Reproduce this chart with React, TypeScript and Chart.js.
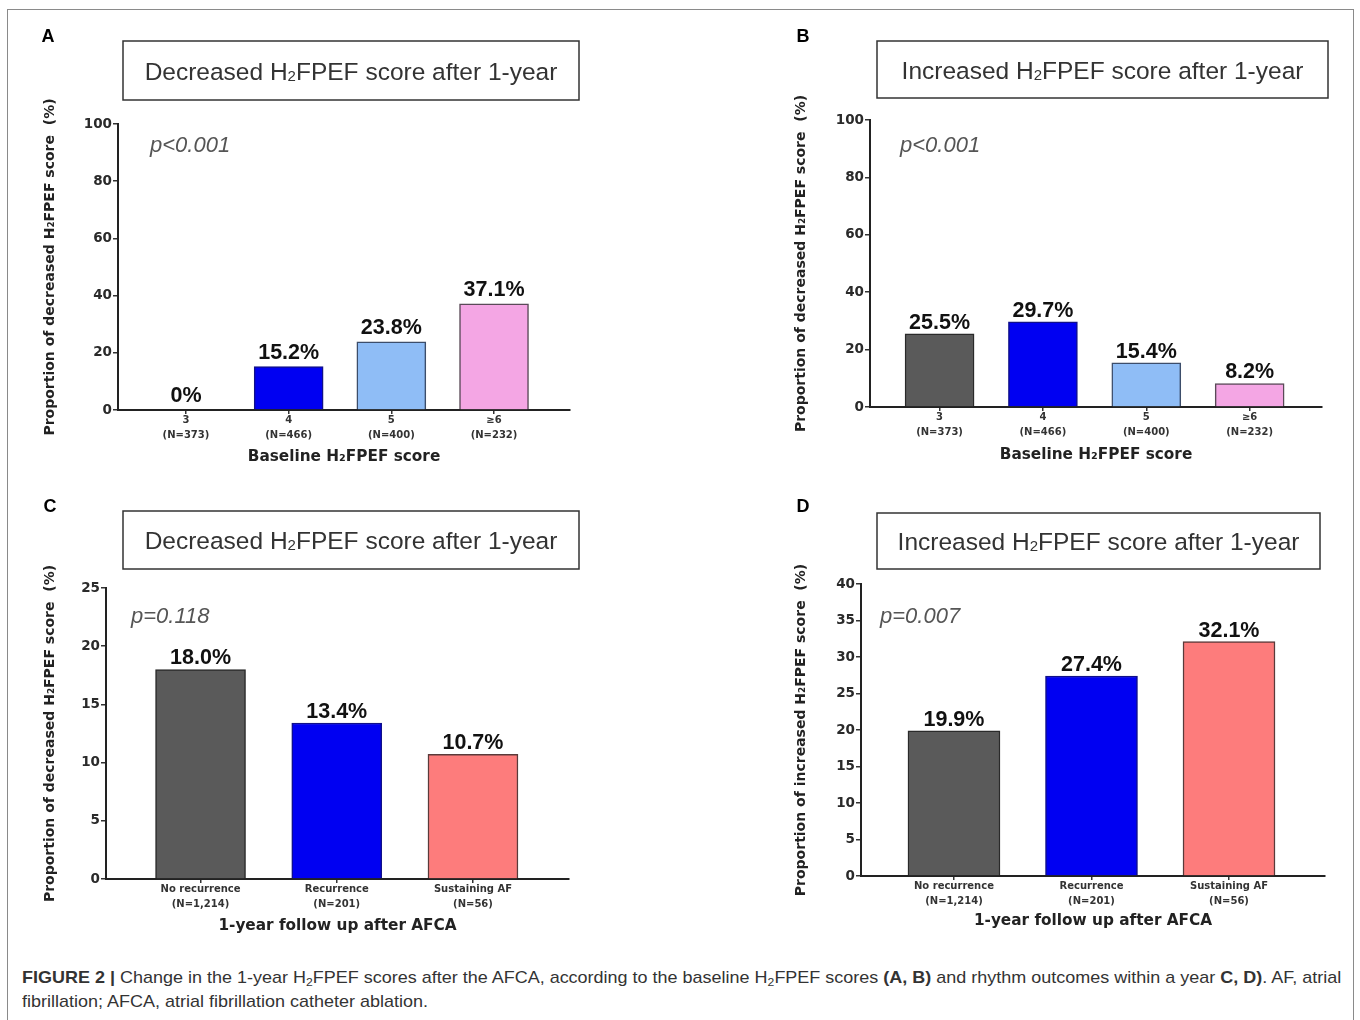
import React, { useEffect, useRef } from "react";
import { Chart, registerables } from "chart.js";

Chart.register(...registerables);

// ---------- data ----------
const scoreCategories = ["3", "4", "5", "≥6"];
const scoreCounts = ["(N=373)", "(N=466)", "(N=400)", "(N=232)"];
const decreasedByScore = [0, 15.2, 23.8, 37.1];
const increasedByScore = [25.5, 29.7, 15.4, 8.2];

const rhythmCategories = ["No recurrence", "Recurrence", "Sustaining AF"];
const rhythmCounts = ["(N=1,214)", "(N=201)", "(N=56)"];
const decreasedByRhythm = [18.0, 13.4, 10.7];
const increasedByRhythm = [19.9, 27.4, 32.1];

const scoreColors = ["#5a5a5a", "#0000f2", "#8fbdf6", "#f4a6e4"];
const scoreBorders = ["#2a2a2a", "#10108a", "#3c4d6a", "#5a4a58"];
const rhythmColors = ["#5a5a5a", "#0000f2", "#fd7c7c"];
const rhythmBorders = ["#2a2a2a", "#10108a", "#5a3a3a"];

const pValues = ["p<0.001", "p<0.001", "p=0.118", "p=0.007"];

// ---------- layout (page coordinates) ----------
type Panel = {
  letter: string;
  cx: number; cy: number; cw: number; ch: number;
  L: number; R: number; T: number; B: number;
  xMin: number; xMax: number; yMax: number; yStep: number;
  barThickness: number; labelGap: number;
  cats: string[]; counts: string[]; values: number[];
  colors: string[]; borders: string[];
  box: [number, number, number, number];
  titleParts: [string, string, string];
  letterX: number; letterY: number;
  pText: string; pX: number; pY: number;
  yTitle: string; yTitleX: number;
  xTitle: string; xTitleY: number;
};

const panels: Panel[] = [
  {
    letter: "A", cx: 0, cy: 0, cw: 680, ch: 470,
    L: 118, R: 570, T: 124, B: 410,
    xMin: 0.338, xMax: 4.74, yMax: 100, yStep: 20, barThickness: 69, labelGap: 8,
    cats: scoreCategories, counts: scoreCounts, values: decreasedByScore,
    colors: scoreColors, borders: scoreBorders,
    box: [123, 41, 579, 100],
    titleParts: ["Decreased H", "2", "FPEF score after 1-year"],
    letterX: 48, letterY: 37,
    pText: pValues[0], pX: 150, pY: 146,
    yTitle: "Proportion of decreased H₂FPEF score  (%)", yTitleX: 50,
    xTitle: "Baseline H₂FPEF score", xTitleY: 457,
  },
  {
    letter: "B", cx: 680, cy: 0, cw: 680, ch: 470,
    L: 870, R: 1322, T: 120, B: 407,
    xMin: 0.327, xMax: 4.70, yMax: 100, yStep: 20, barThickness: 69, labelGap: 5,
    cats: scoreCategories, counts: scoreCounts, values: increasedByScore,
    colors: scoreColors, borders: scoreBorders,
    box: [877, 41, 1328, 98],
    titleParts: ["Increased H", "2", "FPEF score after 1-year"],
    letterX: 803, letterY: 37,
    pText: pValues[1], pX: 900, pY: 146,
    yTitle: "Proportion of decreased H₂FPEF score  (%)", yTitleX: 801,
    xTitle: "Baseline H₂FPEF score", xTitleY: 455,
  },
  {
    letter: "C", cx: 0, cy: 470, cw: 680, ch: 470,
    L: 106, R: 569, T: 588, B: 879,
    xMin: 0.306, xMax: 3.705, yMax: 25, yStep: 5, barThickness: 90, labelGap: 5,
    cats: rhythmCategories, counts: rhythmCounts, values: decreasedByRhythm,
    colors: rhythmColors, borders: rhythmBorders,
    box: [123, 511, 579, 569],
    titleParts: ["Decreased H", "2", "FPEF score after 1-year"],
    letterX: 50, letterY: 507,
    pText: pValues[2], pX: 131, pY: 617,
    yTitle: "Proportion of decreased H₂FPEF score  (%)", yTitleX: 50,
    xTitle: "1-year follow up after AFCA", xTitleY: 926,
  },
  {
    letter: "D", cx: 680, cy: 470, cw: 680, ch: 470,
    L: 861, R: 1325, T: 584, B: 876,
    xMin: 0.324, xMax: 3.698, yMax: 40, yStep: 5, barThickness: 92, labelGap: 5,
    cats: rhythmCategories, counts: rhythmCounts, values: increasedByRhythm,
    colors: rhythmColors, borders: rhythmBorders,
    box: [877, 513, 1320, 569],
    titleParts: ["Increased H", "2", "FPEF score after 1-year"],
    letterX: 803, letterY: 507,
    pText: pValues[3], pX: 880, pY: 617,
    yTitle: "Proportion of increased H₂FPEF score  (%)", yTitleX: 801,
    xTitle: "1-year follow up after AFCA", xTitleY: 921,
  },
];

const AXIS_FONT = '"DejaVu Sans", "Liberation Sans", Arial, sans-serif';
const ARIAL = '"Liberation Sans", Arial, Helvetica, sans-serif';

const fmt = (v: number) => (v === 0 ? "0%" : v.toFixed(1) + "%");

function makeDecor(p: Panel) {
  return {
    id: "decor" + p.letter,
    afterDraw(chart: any) {
      const ctx = chart.ctx as CanvasRenderingContext2D;
      const ox = p.cx, oy = p.cy;
      ctx.save();
      // panel letter
      ctx.font = `bold 18px ${ARIAL}`;
      ctx.fillStyle = "#000";
      ctx.textAlign = "center";
      ctx.textBaseline = "middle";
      ctx.fillText(p.letter, p.letterX - ox, p.letterY - oy);
      // title box
      const [x0, y0, x1, y1] = p.box;
      ctx.strokeStyle = "#333";
      ctx.lineWidth = 1.5;
      ctx.strokeRect(x0 - ox, y0 - oy, x1 - x0, y1 - y0);
      // title text with small "2"
      const bigFont = `24.5px ${ARIAL}`;
      const smallFont = `15px ${ARIAL}`;
      ctx.font = bigFont;
      const w0 = ctx.measureText(p.titleParts[0]).width;
      const w2 = ctx.measureText(p.titleParts[2]).width;
      ctx.font = smallFont;
      const w1 = ctx.measureText(p.titleParts[1]).width;
      const total = w0 + w1 + w2;
      let tx = (x0 + x1) / 2 - total / 2 - ox;
      const baseY = (y0 + y1) / 2 - oy + 9;
      ctx.textAlign = "left";
      ctx.textBaseline = "alphabetic";
      ctx.fillStyle = "#333";
      ctx.font = bigFont;
      ctx.fillText(p.titleParts[0], tx, baseY);
      tx += w0;
      ctx.font = smallFont;
      ctx.fillText(p.titleParts[1], tx, baseY + 1);
      tx += w1;
      ctx.font = bigFont;
      ctx.fillText(p.titleParts[2], tx, baseY);
      // p value
      ctx.font = `italic 22px ${ARIAL}`;
      ctx.fillStyle = "#555";
      ctx.textBaseline = "middle";
      ctx.fillText(p.pText, p.pX - ox, p.pY - oy);
      // bar value labels
      const meta = chart.getDatasetMeta(0);
      ctx.font = `bold 21.5px ${ARIAL}`;
      ctx.fillStyle = "#111";
      ctx.textAlign = "center";
      ctx.textBaseline = "alphabetic";
      meta.data.forEach((bar: any, i: number) => {
        ctx.fillText(fmt(p.values[i]), bar.x, bar.y - p.labelGap);
      });
      ctx.restore();
    },
  };
}

function PanelChart({ p }: { p: Panel }) {
  const ref = useRef<HTMLCanvasElement>(null);
  useEffect(() => {
    if (!ref.current) return;
    const l = p.L - p.cx, r = p.R - p.cx, t = p.T - p.cy, b = p.B - p.cy;
    const xTitleSize = 15.3;
    const xTitleLH = xTitleSize * 1.2;
    const H = p.xTitleY - p.cy - b + xTitleLH / 2;
    const yTitleSize = 14;
    const yTitleLH = yTitleSize * 1.2;
    const chart = new Chart(ref.current, {
      type: "bar",
      data: {
        datasets: [
          {
            data: p.values.map((v, i) => ({ x: i + 1, y: v })),
            backgroundColor: p.colors,
            borderColor: p.borders,
            borderWidth: 1.5,
            borderSkipped: "bottom",
            barThickness: p.barThickness,
          } as any,
        ],
      },
      options: {
        animation: false,
        responsive: false,
        maintainAspectRatio: false,
        events: [],
        layout: {
          padding: { left: 0, right: p.cw - r, top: t, bottom: p.ch - b - H },
        },
        plugins: { legend: { display: false }, tooltip: { enabled: false } },
        scales: {
          x: {
            type: "linear",
            min: p.xMin,
            max: p.xMax,
            offset: false,
            bounds: "data",
            afterBuildTicks: (s: any) => {
              s.ticks = p.cats.map((_, i) => ({ value: i + 1 }));
            },
            afterFit: (s: any) => {
              s.height = H;
            },
            ticks: {
              autoSkip: false,
              maxRotation: 0,
              minRotation: 0,
              padding: -1,
              color: "#333",
              font: { family: AXIS_FONT, size: 10, weight: "bold", lineHeight: "15px" },
              callback: (v: any) => {
                const i = Math.round(Number(v)) - 1;
                return [p.cats[i], p.counts[i]];
              },
            },
            grid: {
              display: true,
              offset: false,
              drawOnChartArea: false,
              drawTicks: true,
              tickLength: 4,
              color: "#333",
              lineWidth: 1.5,
            },
            border: { display: true, color: "#222", width: 2 },
            title: {
              display: true,
              text: p.xTitle,
              color: "#222",
              padding: { top: 0, bottom: 0 },
              font: { family: AXIS_FONT, size: xTitleSize, weight: "bold", lineHeight: 1.2 },
            },
          } as any,
          y: {
            min: 0,
            max: p.yMax,
            afterFit: (s: any) => {
              s.width = l;
            },
            ticks: {
              stepSize: p.yStep,
              padding: 1,
              color: "#2a2a2a",
              font: { family: AXIS_FONT, size: 13.5, weight: "bold" },
            },
            grid: {
              display: true,
              drawOnChartArea: false,
              drawTicks: true,
              tickLength: 5,
              color: "#333",
              lineWidth: 1.5,
            },
            border: { display: true, color: "#222", width: 2 },
            title: {
              display: true,
              text: p.yTitle,
              color: "#222",
              padding: { top: p.yTitleX - p.cx - yTitleLH / 2, bottom: 0 },
              font: { family: AXIS_FONT, size: yTitleSize, weight: "bold", lineHeight: 1.2 },
            },
          } as any,
        },
      } as any,
      plugins: [makeDecor(p)],
    });
    return () => chart.destroy();
  }, [p]);
  return (
    <canvas
      ref={ref}
      width={p.cw}
      height={p.ch}
      style={{ position: "absolute", left: p.cx, top: p.cy, width: p.cw, height: p.ch }}
    />
  );
}

export default function App() {
  const sub: React.CSSProperties = { fontSize: "11.5px", verticalAlign: "-3px", lineHeight: 0 };
  return (
    <div
      style={{
        position: "absolute",
        left: 0,
        top: 0,
        width: 1360,
        height: 1020,
        overflow: "hidden",
        background: "#fff",
      }}
    >
      <div
        style={{
          position: "absolute",
          left: 7,
          top: 9,
          width: 1347,
          height: 1060,
          border: "1.5px solid #8a8a8a",
          boxSizing: "border-box",
        }}
      />
      {panels.map((p) => (
        <PanelChart key={p.letter} p={p} />
      ))}
      <div
        style={{
          position: "absolute",
          left: 22,
          top: 966,
          fontFamily: ARIAL,
          fontSize: "17px",
          lineHeight: "24px",
          color: "#333",
          whiteSpace: "nowrap",
          transform: "scaleX(1.058)",
          transformOrigin: "0 0",
        }}
      >
        <b>FIGURE 2 |</b> Change in the 1-year H<span style={sub}>2</span>FPEF scores after the AFCA, according to the
        baseline H<span style={sub}>2</span>FPEF scores <b>(A, B)</b> and rhythm outcomes within a year <b>C, D)</b>. AF,
        atrial
        <br />
        fibrillation; AFCA, atrial fibrillation catheter ablation.
      </div>
    </div>
  );
}
